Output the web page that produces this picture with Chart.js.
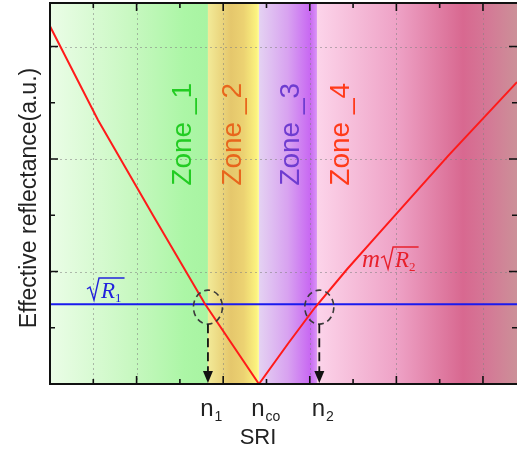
<!DOCTYPE html>
<html>
<head>
<meta charset="utf-8">
<script src="https://cdn.jsdelivr.net/npm/chart.js@4/dist/chart.umd.min.js"></script>
<style>body{margin:0;background:#fff}</style>
</head>
<body>
<canvas id="c" width="517" height="452"></canvas>
<script>
// SRI (x) and effective reflectance (y)
const redX = [0, 0.554, 1.189, 1.79, 2.413, 2.75, 3.06, 3.43, 3.788, 4.6, 5.393];
const redY = [3.18, 2.347, 1.50, 0.711, 0, 0.36, 0.68, 1.02, 1.33, 2.03, 2.684];
const blueLevel = 0.71;
const zoneEdges = [0, 1.824, 2.413, 3.083, 5.393];
const zoneNames = ['Zone _1', 'Zone _2', 'Zone _3', 'Zone _4'];
const tickValues = [1.824, 2.413, 3.11];
const tickMain = ['n', 'n', 'n'];
const tickSub = ['1', 'co', '2'];
const crossings = [1.824, 3.11];

const zoneStops = [
  [[0, '#ebfde7'], [0.5, '#c9f8c2'], [0.85, '#acf6a6'], [1, '#a8f4a2']],
  [[0, '#f2ea98'], [0.45, '#e5c76c'], [0.7, '#ecd272'], [0.95, '#fbf27e'], [1, '#fffc98']],
  [[0, '#e4d2f2'], [0.5, '#d8a2f0'], [0.88, '#c868f2'], [1, '#d994f4']],
  [[0, '#fcd4ea'], [0.4, '#eea2c6'], [0.73, '#d86890'], [0.85, '#d47896'], [1, '#cc9098']]
];
const zoneColors = ['#22cc22', '#e8661c', '#6e3cd0', '#ff3a1a'];
const zoneLabelX = [1.536, 2.113, 2.783, 3.36];

const sketch = {
  id: 'sketch',
  beforeDatasetsDraw(chart) {
    const { ctx, chartArea: a, scales: { x, y } } = chart;
    ctx.save();
    for (let i = 0; i < 4; i++) {
      const x0 = x.getPixelForValue(zoneEdges[i]);
      const x1 = x.getPixelForValue(zoneEdges[i + 1]);
      const g = ctx.createLinearGradient(x0, 0, x1, 0);
      zoneStops[i].forEach(s => g.addColorStop(s[0], s[1]));
      ctx.fillStyle = g;
      ctx.fillRect(x0, a.top, x1 - x0, a.bottom - a.top);
    }
    // dotted grid
    ctx.strokeStyle = 'rgba(130,130,130,0.55)';
    ctx.lineWidth = 1;
    ctx.setLineDash([2, 3]);
    for (const v of [0.5, 1, 2, 3, 4, 5]) {
      const px = Math.round(x.getPixelForValue(v)) + 0.5;
      ctx.beginPath(); ctx.moveTo(px, a.top); ctx.lineTo(px, a.bottom); ctx.stroke();
    }
    for (let v = 1; v <= 3; v++) {
      const py = Math.round(y.getPixelForValue(v)) + 0.5;
      ctx.beginPath(); ctx.moveTo(a.left, py); ctx.lineTo(a.right, py); ctx.stroke();
    }
    ctx.restore();
  },
  afterDatasetsDraw(chart) {
    const { ctx, chartArea: a, scales: { x, y } } = chart;
    ctx.save();
    // zone labels
    ctx.font = '28px Arial, "Liberation Sans", sans-serif';
    ctx.textAlign = 'center';
    ctx.textBaseline = 'middle';
    zoneNames.forEach((t, i) => {
      ctx.save();
      ctx.translate(x.getPixelForValue(zoneLabelX[i]), y.getPixelForValue(2.22));
      ctx.rotate(-Math.PI / 2);
      ctx.fillStyle = zoneColors[i];
      ctx.fillText(t, 0, 0);
      ctx.restore();
    });

    // dashed circles and arrows
    const cy = y.getPixelForValue(blueLevel) + 3;
    crossings.forEach(v => {
      const cx = x.getPixelForValue(v);
      ctx.strokeStyle = '#3a3a3a';
      ctx.lineWidth = 1.6;
      ctx.setLineDash([6, 4]);
      ctx.beginPath(); ctx.ellipse(cx, cy, 14.5, 17, 0, 0, Math.PI * 2); ctx.stroke();
      ctx.strokeStyle = '#111';
      ctx.lineWidth = 1.8;
      ctx.setLineDash([9, 5]);
      ctx.beginPath(); ctx.moveTo(cx, cy + 17); ctx.lineTo(cx, a.bottom - 10); ctx.stroke();
      ctx.setLineDash([]);
      ctx.fillStyle = '#111';
      ctx.beginPath();
      ctx.moveTo(cx - 5, a.bottom - 13); ctx.lineTo(cx + 5, a.bottom - 13); ctx.lineTo(cx, a.bottom - 1);
      ctx.closePath(); ctx.fill();
    });

    // axes frame
    ctx.setLineDash([]);
    ctx.strokeStyle = '#111';
    ctx.lineWidth = 2;
    ctx.beginPath();
    ctx.moveTo(a.right + 2, a.top); ctx.lineTo(a.left, a.top);
    ctx.lineTo(a.left, a.bottom); ctx.lineTo(a.right + 2, a.bottom);
    ctx.stroke();
    // inward ticks
    ctx.lineWidth = 1.6;
    for (let v = 0.5; v < x.max; v += 0.5) {
      const px = x.getPixelForValue(v);
      const len = Number.isInteger(v) ? 8 : 5;
      ctx.beginPath();
      ctx.moveTo(px, a.bottom); ctx.lineTo(px, a.bottom - len);
      ctx.moveTo(px, a.top); ctx.lineTo(px, a.top + len);
      ctx.stroke();
    }
    for (let v = 0.5; v < y.max; v += 0.5) {
      const py = y.getPixelForValue(v);
      const len = Number.isInteger(v) ? 8 : 5;
      ctx.beginPath();
      ctx.moveTo(a.left, py); ctx.lineTo(a.left + len, py);
      ctx.moveTo(a.right, py); ctx.lineTo(a.right - len, py);
      ctx.stroke();
    }

    // tick labels n1, nco, n2
    ctx.fillStyle = '#222';
    ctx.textBaseline = 'alphabetic';
    tickValues.forEach((v, i) => {
      const px = x.getPixelForValue(v);
      ctx.font = '24px Arial, "Liberation Sans", sans-serif';
      const w = ctx.measureText(tickMain[i]).width;
      ctx.textAlign = 'left';
      ctx.fillText(tickMain[i], px - w / 2 - 1, 416);
      ctx.font = '14px Arial, "Liberation Sans", sans-serif';
      ctx.fillText(tickSub[i], px + w / 2, 421);
    });
    // axis titles
    ctx.font = '22px Arial, "Liberation Sans", sans-serif';
    ctx.textAlign = 'center';
    ctx.fillText('SRI', 258, 444);
    ctx.save();
    ctx.font = '23px Arial, "Liberation Sans", sans-serif';
    ctx.translate(36, 198);
    ctx.rotate(-Math.PI / 2);
    ctx.fillText('Effective reflectance(a.u.)', 0, 0);
    ctx.restore();

    // radical labels
    const radical = (x0, base, h, color, sub, prefix) => {
      ctx.fillStyle = color;
      ctx.strokeStyle = color;
      ctx.textAlign = 'left';
      let cx = x0;
      if (prefix) {
        ctx.font = 'italic 25px "Liberation Serif", "DejaVu Serif", serif';
        ctx.fillText(prefix, cx, base);
        cx += ctx.measureText(prefix).width + 1;
      }
      ctx.font = 'italic 23px "Liberation Serif", "DejaVu Serif", serif';
      const rw = ctx.measureText('R').width;
      ctx.font = '13px "Liberation Serif", serif';
      const sw = ctx.measureText(sub).width;
      ctx.lineWidth = 1.4;
      ctx.beginPath();
      ctx.moveTo(cx, base - h * 0.45);
      ctx.lineTo(cx + 3, base - h * 0.55);
      ctx.lineTo(cx + 7, base + 2);
      ctx.lineTo(cx + 12, base - h);
      ctx.lineTo(cx + 14 + rw + sw + 3, base - h);
      ctx.stroke();
      ctx.font = 'italic 23px "Liberation Serif", "DejaVu Serif", serif';
      ctx.fillText('R', cx + 14, base);
      ctx.font = '13px "Liberation Serif", serif';
      ctx.fillText(sub, cx + 14 + rw, base + 4);
    };
    radical(87, 298, 20, '#2222dd', '1');
    radical(362, 267, 20, '#e8202c', '2', 'm');
    ctx.restore();
  }
};

new Chart(document.getElementById('c'), {
  type: 'scatter',
  data: {
    datasets: [
      {
        data: redX.map((v, i) => ({ x: v, y: redY[i] })),
        showLine: true, borderColor: '#ff1a1a', borderWidth: 2,
        pointRadius: 0, tension: 0
      },
      {
        data: [{ x: 0, y: blueLevel }, { x: 5.393, y: blueLevel }],
        showLine: true, borderColor: '#1a1aee', borderWidth: 2,
        pointRadius: 0
      }
    ]
  },
  options: {
    responsive: false,
    animation: false,
    layout: { padding: { left: 50, top: 3, right: 0, bottom: 68 } },
    plugins: { legend: { display: false }, tooltip: { enabled: false } },
    scales: {
      x: { type: 'linear', min: 0, max: 5.393, display: false },
      y: { min: 0, max: 3.387, display: false }
    }
  },
  plugins: [sketch]
});
</script>
</body>
</html>
